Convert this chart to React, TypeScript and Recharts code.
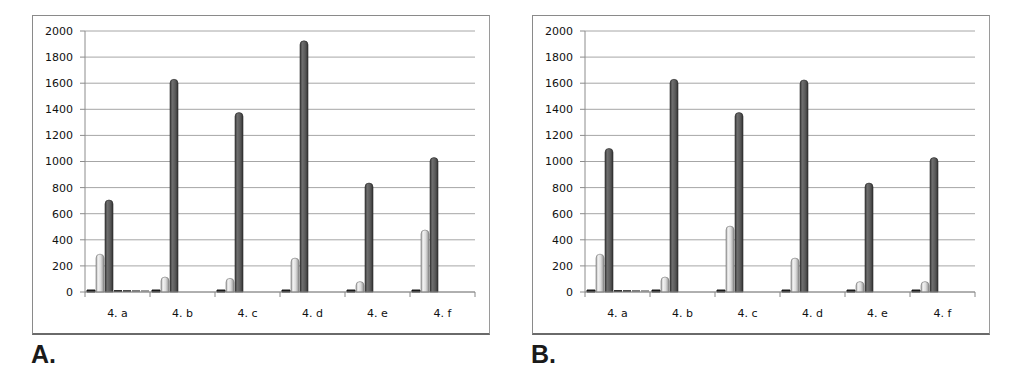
import * as React from 'react';
import { BarChart, Bar, XAxis, YAxis, CartesianGrid } from 'recharts';

const categories = ['4. a', '4. b', '4. c', '4. d', '4. e', '4. f'];
const yTicks = [0, 200, 400, 600, 800, 1000, 1200, 1400, 1600, 1800, 2000];

// panel A
const aBlack = [15, 15, 15, 15, 15, 15];
const aLight = [290, 115, 105, 260, 80, 475];
const aDark = [705, 1630, 1375, 1925, 835, 1030];
// panel B
const bBlack = [15, 15, 15, 15, 15, 15];
const bLight = [290, 115, 505, 260, 80, 80];
const bDark = [1100, 1630, 1375, 1625, 835, 1030];
// near-zero series only visible at 4. a
const extra1 = [15, 0, 0, 0, 0, 0];
const extra2 = [15, 0, 0, 0, 0, 0];
const extra3 = [15, 0, 0, 0, 0, 0];
const extra4 = [15, 0, 0, 0, 0, 0];

const CHART_W = 456;
const CHART_H = 317;
const MARGIN = { top: 15, right: 14, left: 0, bottom: 0 };
const Y_W = 52;
const FONT = 'DejaVu Sans, sans-serif';

function buildRows(black: number[], light: number[], dark: number[]) {
  return categories.map((name, i) => ({
    name,
    s1: black[i],
    s2: light[i],
    s3: dark[i],
    s4: extra1[i],
    s5: extra2[i],
    s6: extra3[i],
    s7: extra4[i],
  }));
}

const bandW = (CHART_W - MARGIN.left - MARGIN.right - Y_W) / categories.length;

function CategoryTick(props: any) {
  const { x, y, payload, index } = props;
  const left = x - bandW / 2;
  return (
    <g>
      <line x1={left} y1={y} x2={left} y2={y + 5} stroke="#888" />
      {index === categories.length - 1 && (
        <line x1={left + bandW} y1={y} x2={left + bandW} y2={y + 5} stroke="#888" />
      )}
      <text x={x} y={y + 21} dy="0.35em" textAnchor="middle" fontSize={11} fontFamily={FONT} fill="#111">
        {payload.value}
      </text>
    </g>
  );
}

function Gradients({ id }: { id: string }) {
  return (
    <defs>
      <linearGradient id={`light-${id}`} x1="0" y1="0" x2="1" y2="0">
        <stop offset="0%" stopColor="#9a9a9a" />
        <stop offset="25%" stopColor="#f4f4f4" />
        <stop offset="60%" stopColor="#dcdcdc" />
        <stop offset="100%" stopColor="#8c8c8c" />
      </linearGradient>
      <linearGradient id={`dark-${id}`} x1="0" y1="0" x2="1" y2="0">
        <stop offset="0%" stopColor="#3c3c3c" />
        <stop offset="30%" stopColor="#6e6e6e" />
        <stop offset="65%" stopColor="#5a5a5a" />
        <stop offset="100%" stopColor="#333" />
      </linearGradient>
    </defs>
  );
}

function Panel({ id, black, light, dark, left, label }: {
  id: string; black: number[]; light: number[]; dark: number[]; left: number; label: string;
}) {
  const data = buildRows(black, light, dark);
  return (
    <>
      <div
        style={{
          position: 'absolute',
          left,
          top: 15,
          width: CHART_W + 2,
          height: CHART_H + 3,
          boxSizing: 'border-box',
          border: '1px solid #8a8a8a',
          borderBottom: '2px solid #6a6a6a',
          borderRight: '1px solid #9a9a9a',
          background: '#fff',
        }}
      >
        <BarChart width={CHART_W} height={CHART_H} data={data} margin={MARGIN} barSize={8} barGap={1}>
          <Gradients id={id} />
          <CartesianGrid vertical={false} stroke="#a6a6a6" />
          <XAxis
            dataKey="name"
            axisLine={{ stroke: '#8c8c8c' }}
            tickLine={false}
            tickSize={0}
            tickMargin={0}
            height={41}
            interval={0}
            tick={<CategoryTick />}
          />
          <YAxis
            width={Y_W}
            domain={[0, 2000]}
            ticks={yTicks}
            interval={0}
            axisLine={{ stroke: '#8c8c8c' }}
            tickLine={{ stroke: '#8c8c8c' }}
            tickSize={5}
            tickMargin={7}
            tick={{ fontSize: 11, fontFamily: FONT, fill: '#111' }}
          />
          <Bar dataKey="s1" fill="#1e1e1e" stroke="#111" isAnimationActive={false} />
          <Bar dataKey="s2" fill={`url(#light-${id})`} stroke="#777" strokeWidth={0.6} radius={[4, 4, 0, 0]} isAnimationActive={false} />
          <Bar dataKey="s3" fill={`url(#dark-${id})`} stroke="#2a2a2a" strokeWidth={0.6} radius={[4, 4, 0, 0]} isAnimationActive={false} />
          <Bar dataKey="s4" fill="#2a2a2a" isAnimationActive={false} />
          <Bar dataKey="s5" fill="#444" isAnimationActive={false} />
          <Bar dataKey="s6" fill="#777" isAnimationActive={false} />
          <Bar dataKey="s7" fill="#999" isAnimationActive={false} />
        </BarChart>
      </div>
      <div
        style={{
          position: 'absolute',
          left: left - 1,
          top: 340,
          fontFamily: 'Liberation Sans, Arial, sans-serif',
          fontWeight: 'bold',
          fontSize: 25,
          color: '#1a1a1a',
        }}
      >
        {label}
      </div>
    </>
  );
}

export default function App() {
  return (
    <div style={{ position: 'absolute', left: 0, top: 0, width: 1009, height: 380, background: '#fff' }}>
      <Panel id="a" black={aBlack} light={aLight} dark={aDark} left={32} label="A." />
      <Panel id="b" black={bBlack} light={bLight} dark={bDark} left={532} label="B." />
    </div>
  );
}
